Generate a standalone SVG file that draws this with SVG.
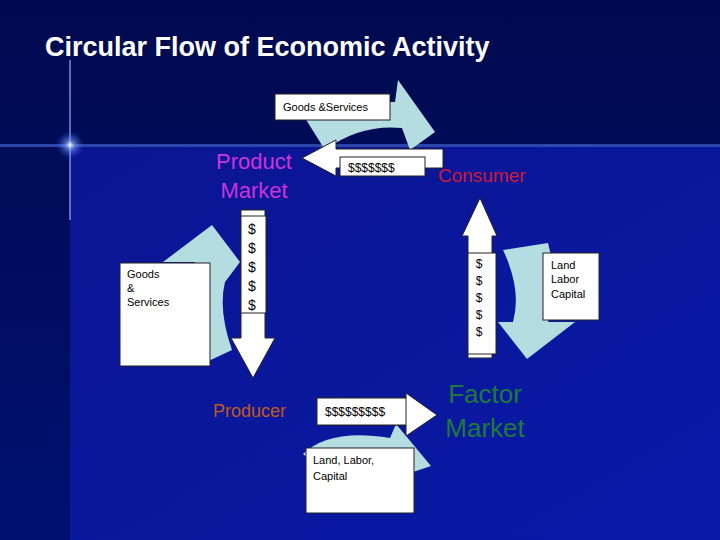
<svg xmlns="http://www.w3.org/2000/svg" width="720" height="540" viewBox="0 0 720 540">
<defs>
<linearGradient id="bg" x1="0" y1="0" x2="0" y2="1"><stop offset="0" stop-color="#000a4e"/><stop offset="1" stop-color="#001070"/></linearGradient>
<linearGradient id="bg2" x1="0" y1="0" x2="1" y2="1"><stop offset="0" stop-color="#0a1590"/><stop offset="1" stop-color="#0a1aa8"/></linearGradient>
<radialGradient id="glow"><stop offset="0" stop-color="#ffffff"/><stop offset="0.3" stop-color="#8fb0ff" stop-opacity="0.6"/><stop offset="1" stop-color="#3050ff" stop-opacity="0"/></radialGradient>
<style>
.tb{fill:#fff;stroke:#222;stroke-width:1}
.wa{fill:#fff;stroke:#222;stroke-width:1}
.ca{fill:#b4dde2}
.t{font-family:"Liberation Sans",Arial,sans-serif;fill:#000}
</style>
</defs>
<rect width="720" height="540" fill="url(#bg)"/>
<rect x="70" y="147" width="650" height="393" fill="url(#bg2)"/>
<rect x="0" y="144" width="720" height="3" fill="#4a70e0" opacity="0.6"/>
<rect x="69" y="60" width="2" height="160" fill="#8fb0ff" opacity="0.6"/>
<circle cx="70" cy="145" r="14" fill="url(#glow)"/>
<text x="45" y="56" font-family="Liberation Sans,Arial,sans-serif" font-weight="bold" font-size="27" fill="#fff">Circular Flow of Economic Activity</text>

<g id="connectors">
<path class="ca" d="M305,118 Q330,100 395,102 L398,80 L435,132 L410,150 L402,128 Q360,124 325,150 Z"/>
<path class="ca" d="M232,350 Q218,310 225,282 L240,262 L212,225 L163,262 L195,262 Q180,310 200,365 Z"/>
<path class="ca" d="M503,250 L548,243 Q560,290 548,322 L575,322 L527,359 L498,322 L513,322 Q522,290 503,250 Z"/>
<path class="ca" d="M303,454 Q330,428 390,438 L396,424 L431,466 L395,478 L392,454 Q345,448 318,466 Z"/>
<path class="wa" d="M302,158 L336,140 L336,149 L443,149 L443,168 L336,168 L336,176 Z"/>
<path class="wa" d="M241,210 L265,210 L265,338 L275,338 L253,378 L231,338 L241,338 Z"/>
<path class="wa" d="M480,198 L497,236 L492,236 L492,358 L468,358 L468,236 L462,236 Z"/>
<path class="wa" d="M317,398 L406,398 L406,393 L437,415 L406,436 L406,425 L317,425 Z"/>
</g>

<g id="goods-services-top"><rect class="tb" x="275" y="94" width="115" height="26"/><text class="t" x="283" y="111" font-size="11">Goods &amp;Services</text></g>
<g id="money-top"><rect class="tb" x="340" y="157" width="85" height="19"/><text class="t" x="348" y="172" font-size="12">$$$$$$$</text></g>
<g id="goods-services-left"><rect class="tb" x="120" y="263" width="90" height="103"/><text class="t" font-size="11"><tspan x="127" y="278">Goods</tspan><tspan x="127" y="292">&amp;</tspan><tspan x="127" y="306">Services</tspan></text></g>
<g id="money-left"><rect class="tb" x="241" y="216" width="25" height="97"/><text class="t" font-size="14" text-anchor="middle"><tspan x="252" y="234">$</tspan><tspan x="252" y="253">$</tspan><tspan x="252" y="272">$</tspan><tspan x="252" y="291">$</tspan><tspan x="252" y="310">$</tspan></text></g>
<g id="money-right"><rect class="tb" x="468" y="253" width="28" height="101"/><text class="t" font-size="12" text-anchor="middle"><tspan x="479" y="268">$</tspan><tspan x="479" y="285">$</tspan><tspan x="479" y="302">$</tspan><tspan x="479" y="319">$</tspan><tspan x="479" y="336">$</tspan></text></g>
<g id="factors-right"><rect class="tb" x="543" y="253" width="56" height="67"/><text class="t" font-size="11"><tspan x="551" y="269">Land</tspan><tspan x="551" y="283">Labor</tspan><tspan x="551" y="298">Capital</tspan></text></g>
<g id="money-bottom"><rect class="tb" x="317" y="398" width="89" height="27"/><text class="t" x="325" y="416" font-size="12">$$$$$$$$$</text></g>
<g id="factors-bottom"><rect class="tb" x="306" y="448" width="108" height="65"/><text class="t" font-size="11"><tspan x="313" y="464">Land, Labor,</tspan><tspan x="313" y="480">Capital</tspan></text></g>

<g id="product-market"><text font-family="Liberation Sans,Arial,sans-serif" font-size="22" fill="#cc33dd" text-anchor="middle"><tspan x="254" y="169">Product</tspan><tspan x="254" y="198">Market</tspan></text></g>
<g id="consumer"><text x="438" y="182" font-family="Liberation Sans,Arial,sans-serif" font-size="19" fill="#cc1a3a">Consumer</text></g>
<g id="producer"><text x="213" y="417" font-family="Liberation Sans,Arial,sans-serif" font-size="18" fill="#c05a1a">Producer</text></g>
<g id="factor-market"><text font-family="Liberation Sans,Arial,sans-serif" font-size="26" fill="#1f7a3a" text-anchor="middle"><tspan x="485" y="403">Factor</tspan><tspan x="485" y="437">Market</tspan></text></g>
</svg>
